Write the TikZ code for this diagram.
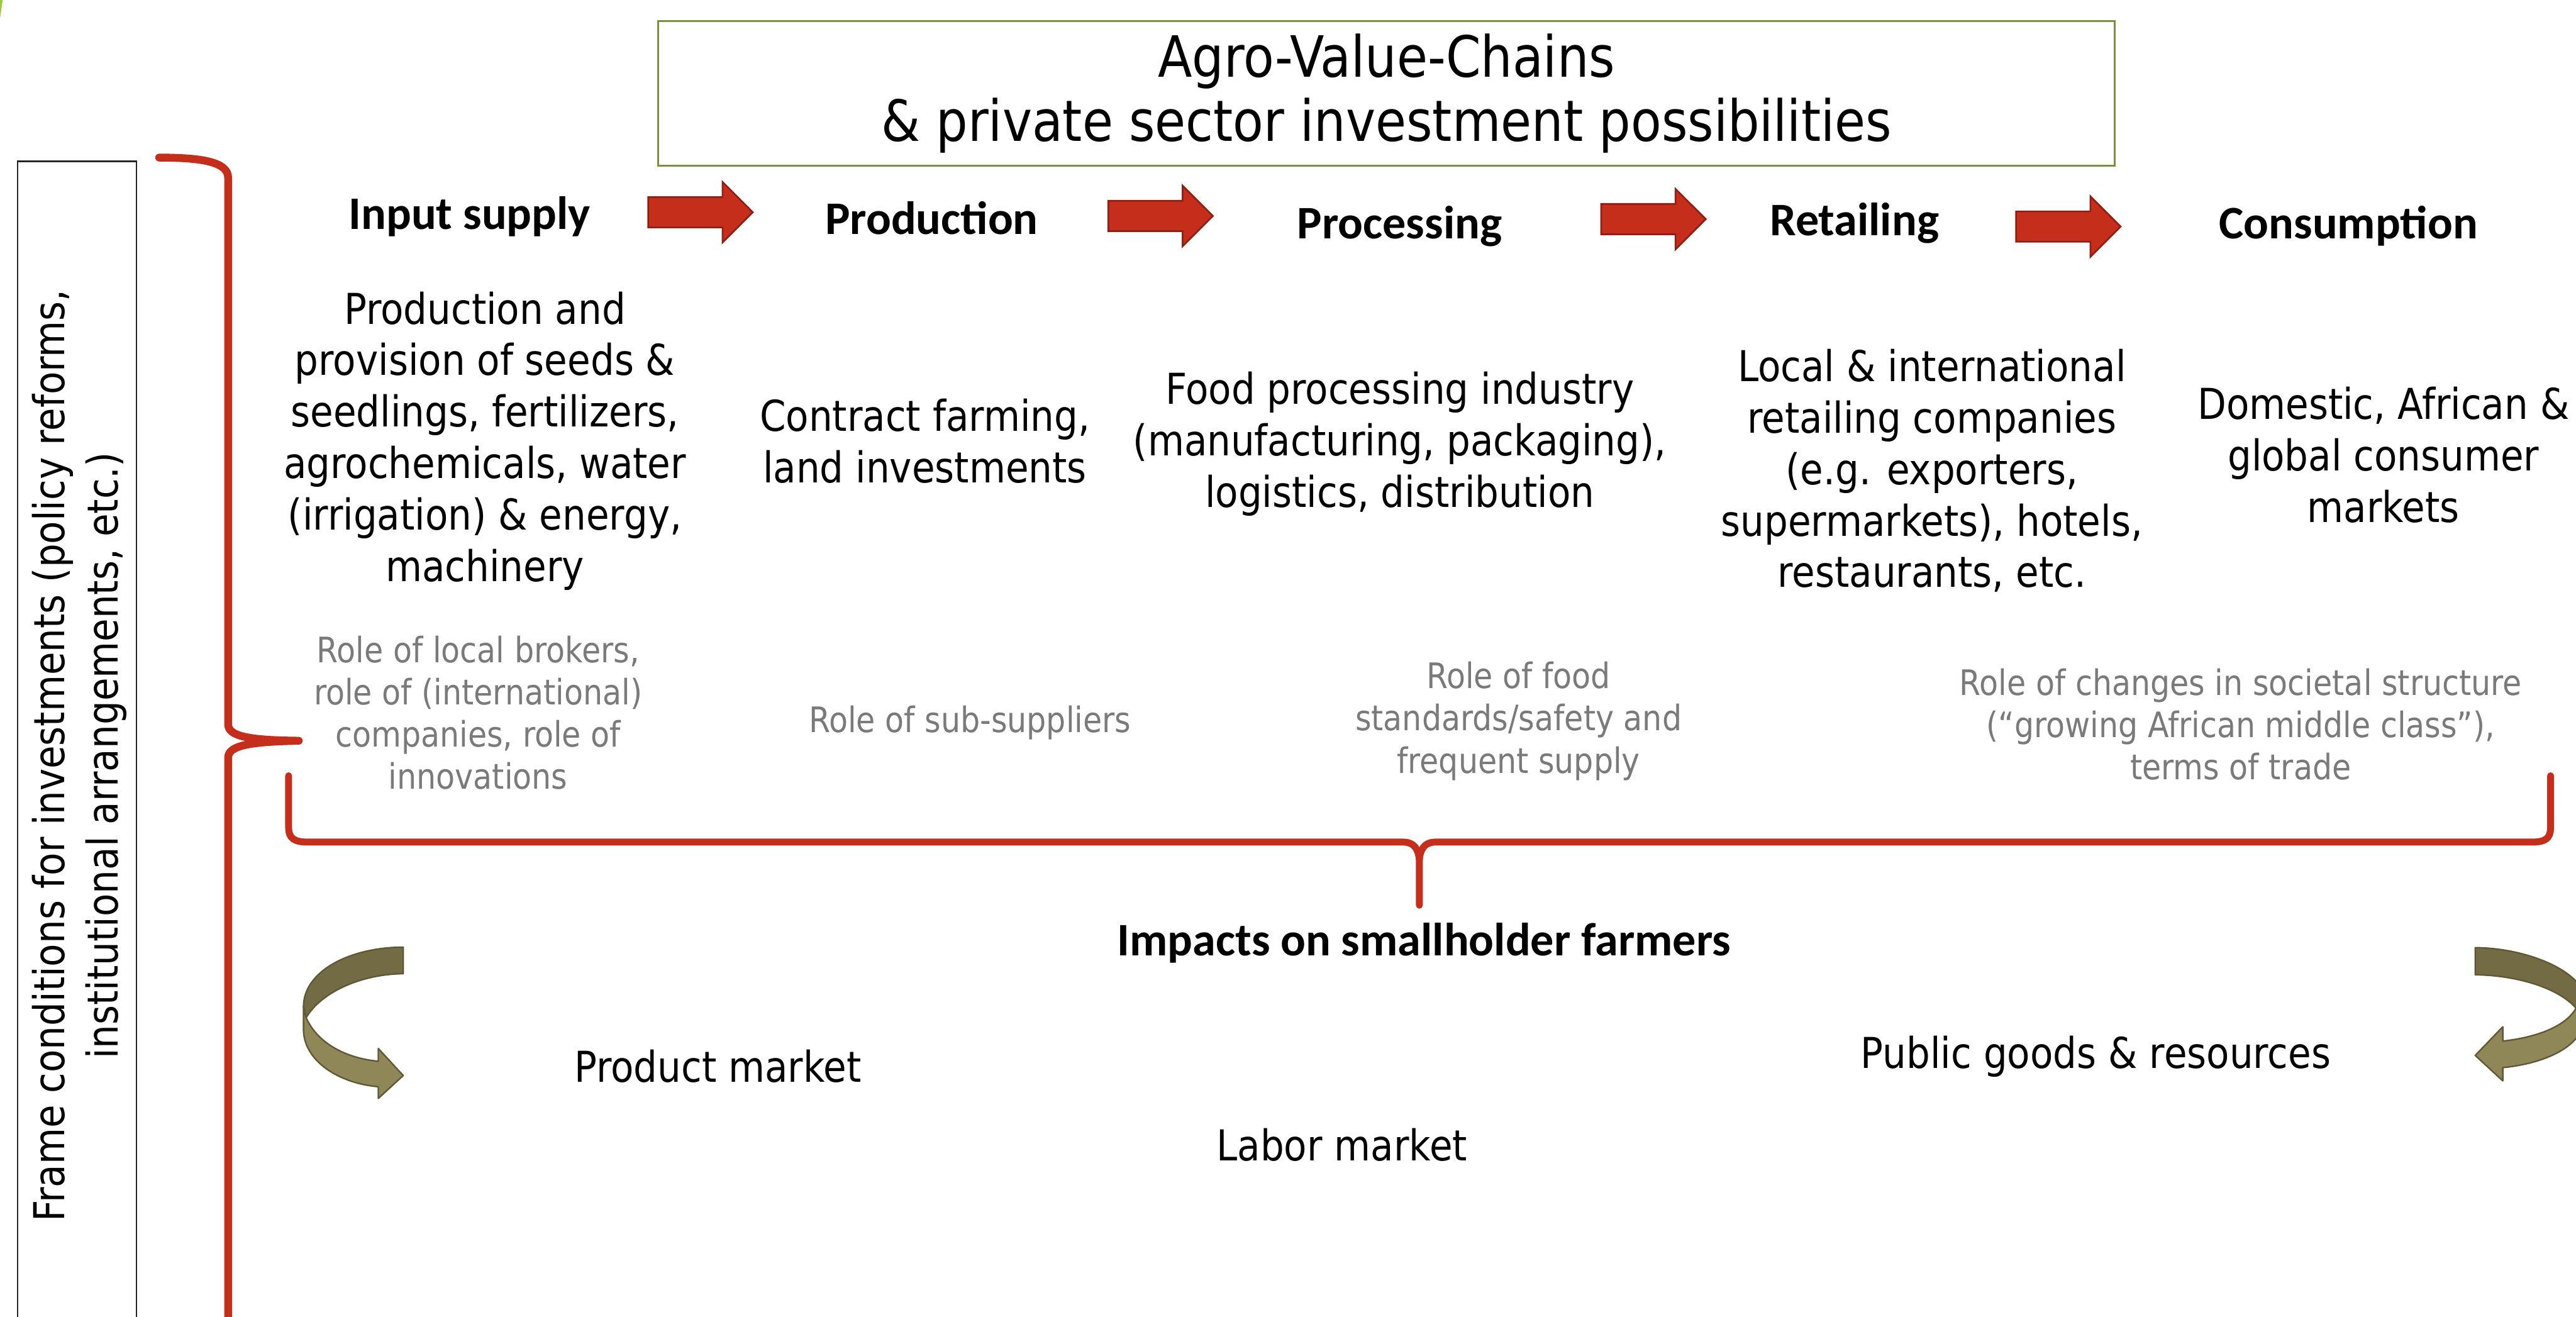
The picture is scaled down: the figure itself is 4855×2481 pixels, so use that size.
\documentclass[tikz,border=0pt]{standalone}
\usepackage{fontspec}
\usepackage{xcolor}
\usetikzlibrary{shapes.arrows}
\newfontfamily\bodyfont[FakeStretch=0.88]{DejaVu Sans}
\newfontfamily\headfont{Carlito}
\definecolor{bracered}{HTML}{C42E1A}
\definecolor{arrowedge}{HTML}{8E1F12}
\definecolor{titlegreen}{HTML}{76923C}
\definecolor{rolegray}{HTML}{7A7A7A}
\definecolor{olivedark}{HTML}{736B43}
\definecolor{olivelight}{HTML}{8F8757}
\definecolor{oliveedge}{HTML}{5F5835}
\definecolor{leafgreen}{HTML}{9BCB3B}

\tikzset{
  stage/.style={font=\headfont\bfseries\fontsize{25pt}{30pt}\selectfont, inner sep=0pt},
  stagetext/.style={font=\bodyfont\fontsize{22.8pt}{27.6pt}\selectfont, align=center, inner sep=0pt},
  roletext/.style={font=\bodyfont\fontsize{18.8pt}{22.6pt}\selectfont, align=center, text=rolegray, inner sep=0pt},
  flowarrow/.style={single arrow, fill=bracered, draw=arrowedge, line width=0.9pt,
    minimum height=1.97cm, inner xsep=0pt, inner ysep=0.27cm, single arrow head extend=0.285cm},
  bracket/.style={draw=bracered, line cap=round, line join=round},
  bendarrow/.style={draw=oliveedge, line width=0.8pt, line join=round},
}

\begin{document}
\begin{tikzpicture}[x=0.01cm, y=-0.01cm]
  \useasboundingbox (0,0) rectangle (4855,2481);
  \clip (0,0) rectangle (4855,2481);
  \fill[leafgreen] (0,0) -- (5,0) -- (0,35) -- cycle;

  % title box
  \node[draw=titlegreen, line width=0.9pt, minimum width=27.44cm, minimum height=2.73cm,
    font=\bodyfont\fontsize{30.5pt}{34.2pt}\selectfont, align=center] (title) at (2613,176)
    {Agro-Value-Chains\\ \& private sector investment possibilities};

  % frame conditions on the left
  \draw[line width=0.7pt, black!85] (33,304) rectangle (257,2600);
  \node[stagetext, font=\bodyfont\fontsize{22.8pt}{28.5pt}\selectfont, rotate=90] (frame) at (150,1424)
    {Frame conditions for investments (policy reforms,\\ institutional arrangements, etc.)};
  \draw[bracket, line width=4.2pt] (300,297) .. controls (380,297) and (430,305) .. (430,335)
    -- (430,1365) .. controls (430,1388) and (470,1395) .. (563,1396)
    .. controls (470,1398) and (430,1405) .. (430,1428) -- (430,2520);

  % stages of the chain
  \node[stage, anchor=base] (input) at (885,432) {Input supply};
  \node[stage, anchor=base] (production) at (1756,442) {Production};
  \node[stage, anchor=base] (processing) at (2638,450) {Processing};
  \node[stage, anchor=base] (retailing) at (3495,444) {Retailing};
  \node[stage, anchor=base] (consumption) at (4426,450) {Consumption};

  \node[flowarrow] (f1) at (1306,400) {};
  \node[flowarrow] (f2) at (2173,407) {};
  \node[flowarrow] (f3) at (3102,413) {};
  \node[flowarrow] (f4) at (3884,427) {};

  \node[stagetext] (input-txt) at (914,831) {Production and\\ provision of seeds \&\\ seedlings, fertilizers,\\
    agrochemicals, water\\ (irrigation) \& energy,\\ machinery};
  \node[stagetext] (production-txt) at (1743,831) {Contract farming,\\ land investments};
  \node[stagetext] (processing-txt) at (2638,837) {Food processing industry\\
    (manufacturing, packaging),\\ logistics, distribution};
  \node[stagetext] (retailing-txt) at (3641,887) {Local \& international\\ retailing companies\\
    (e.g. exporters,\\ supermarkets), hotels,\\ restaurants, etc.};
  \node[stagetext] (consumption-txt) at (4492,857) {Domestic, African \&\\ global consumer\\ markets};

  % roles
  \node[roletext] (input-role) at (901,1343) {Role of local brokers,\\ role of (international)\\
    companies, role of\\ innovations};
  \node[roletext] (production-role) at (1828,1362) {Role of sub-suppliers};
  \node[roletext] (processing-role) at (2862,1359) {Role of food\\ standards/safety and\\ frequent supply};
  \node[roletext] (consumption-role) at (4223,1365) {Role of changes in societal structure\\
    (“growing African middle class”),\\ terms of trade};

  % brace under the chain
  \draw[bracket, line width=3.7pt] (544,1462) -- (544,1560) .. controls (544,1580) and (555,1587) .. (580,1587)
    -- (2645,1587) .. controls (2665,1587) and (2673,1600) .. (2675,1620) -- (2675,1706);
  \draw[bracket, line width=3.7pt] (4807,1462) -- (4807,1560) .. controls (4807,1580) and (4797,1587) .. (4772,1587)
    -- (2705,1587) .. controls (2685,1587) and (2677,1600) .. (2675,1620);

  % impacts
  \node[stage] (impact) at (2684,1777) {Impacts on smallholder farmers};
  \node[stagetext] (product) at (1353,2009) {Product market};
  \node[stagetext] (public) at (3950,1991) {Public goods \& resources};
  \node[stagetext] (labor) at (2529,2158) {Labor market};

  % bent arrows, left
  \fill[olivelight, bendarrow] (572,1940) .. controls (572,2000) and (640,2042) .. (713,2048)
    -- (713,2070) -- (760,2027) -- (713,1976) -- (713,2000)
    .. controls (650,1994) and (598,1965) .. (577,1918) -- (572,1897) -- cycle;
  \fill[olivedark, bendarrow] (760,1785) .. controls (660,1785) and (572,1830) .. (572,1897)
    -- (577,1918) .. controls (605,1870) and (680,1836) .. (760,1835) -- cycle;
  % bent arrows, right
  \fill[olivelight, bendarrow] (4872,1915) .. controls (4870,1975) and (4790,2005) .. (4717,2012)
    -- (4717,2037) -- (4665,1989) -- (4717,1935) -- (4717,1962)
    .. controls (4780,1955) and (4835,1935) .. (4855,1900) -- (4872,1885) -- cycle;
  \fill[olivedark, bendarrow] (4665,1786) .. controls (4760,1786) and (4870,1830) .. (4872,1885)
    -- (4855,1900) .. controls (4820,1860) and (4740,1838) .. (4665,1837) -- cycle;
\end{tikzpicture}
\end{document}
